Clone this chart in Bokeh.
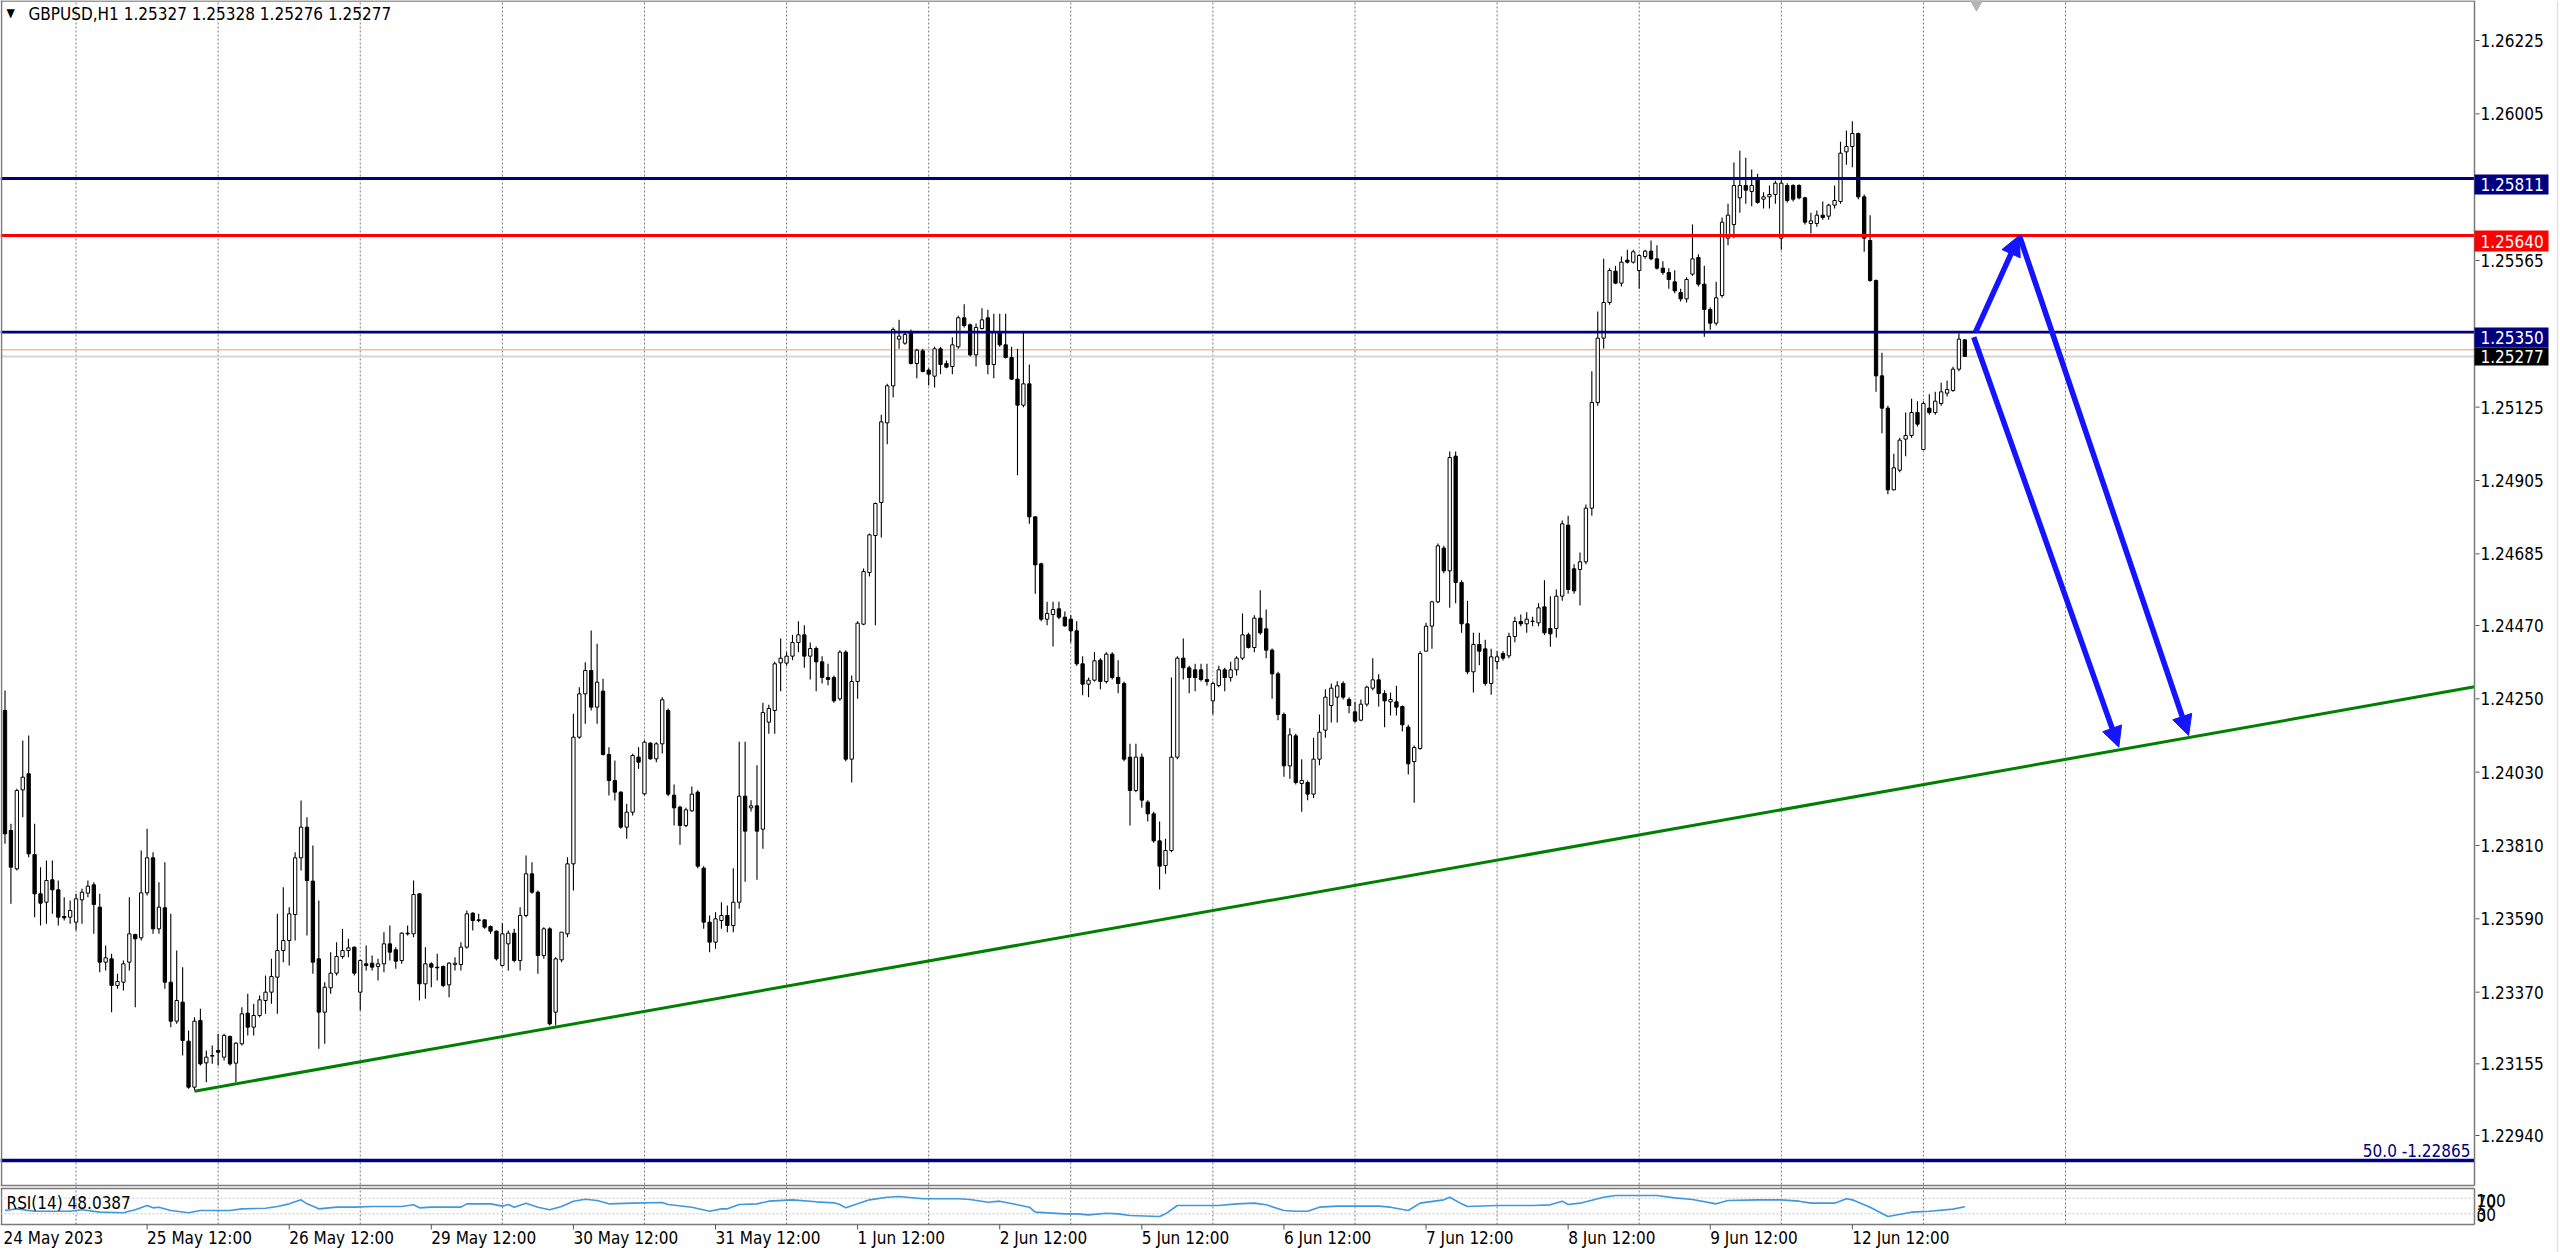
import numpy as np
from bokeh.plotting import figure
from bokeh.models import Range1d, Arrow, NormalHead
from bokeh.core.properties import value
from bokeh.embed import file_html
from bokeh.resources import INLINE

FONT = "DejaVu Sans Condensed"

# ---------------- data ----------------
symbol_title = "GBPUSD,H1  1.25327 1.25328 1.25276 1.25277"

opens = [
1.24215,1.23855,1.23740,1.23977,1.24025,1.23783,1.23665,1.23640,1.23707,1.23677,
1.23597,1.23595,1.23580,1.23647,1.23667,1.23692,1.23625,1.23460,1.23470,1.23390,
1.23400,1.23460,1.23543,1.23533,1.23668,1.23773,1.23560,1.23623,1.23400,1.23283,
1.23340,1.23223,1.23085,1.23285,1.23158,1.23178,1.23195,1.23175,1.23237,1.23157,
1.23215,1.23307,1.23265,1.23300,1.23345,1.23370,1.23415,1.23495,1.23525,1.23603,
1.23773,1.23865,1.23703,1.23470,1.23310,1.23383,1.23427,1.23477,1.23495,1.23505,
1.23370,1.23455,1.23457,1.23447,1.23455,1.23515,1.23497,1.23465,1.23547,1.23545,
1.23665,1.23395,1.23455,1.23445,1.23447,1.23392,1.23453,1.23453,1.23505,1.23607,
1.23587,1.23587,1.23567,1.23553,1.23450,1.23515,1.23547,1.23465,1.23600,1.23725,
1.23670,1.23480,1.23560,1.23310,1.23467,1.23545,1.23755,1.24135,1.24265,1.24335,
1.24225,1.24273,1.24083,1.24005,1.23970,1.23865,1.23910,1.24075,1.23965,1.24117,
1.24070,1.24115,1.24215,1.23961,1.23925,1.23870,1.23914,1.23970,1.23742,1.23580,
1.23520,1.23585,1.23600,1.23570,1.23640,1.23958,1.23923,1.23929,1.23859,1.24180,
1.24215,1.24358,1.24357,1.24378,1.24419,1.24442,1.24378,1.24401,1.24361,1.24314,
1.24314,1.24250,1.24390,1.24069,1.24302,1.24474,1.24629,1.24740,1.24839,1.25078,
1.25189,1.25329,1.25317,1.25349,1.25256,1.25294,1.25236,1.25218,1.25300,1.25256,
1.25247,1.25306,1.25393,1.25372,1.25282,1.25361,1.25393,1.25253,1.25349,1.25312,
1.25274,1.25209,1.25131,1.25195,1.24796,1.24655,1.24489,1.24503,1.24520,1.24495,
1.24489,1.24454,1.24355,1.24294,1.24306,1.24366,1.24302,1.24384,1.24314,1.24296,
1.24075,1.23975,1.24075,1.23940,1.23905,1.23824,1.23750,1.23795,1.24075,1.24372,
1.24343,1.24337,1.24337,1.24308,1.24244,1.24290,1.24337,1.24314,1.24337,1.24372,
1.24442,1.24404,1.24492,1.24460,1.24396,1.24325,1.24203,1.24049,1.24139,1.23996,
1.23999,1.23964,1.24069,1.24156,1.24230,1.24255,1.24296,1.24248,1.24211,1.24186,
1.24234,1.24282,1.24307,1.24266,1.24241,1.24241,1.24227,1.24165,1.24062,1.24101,
1.24393,1.24468,1.24541,1.24702,1.24634,1.24978,1.24599,1.24475,1.24331,1.24413,
1.24400,1.24296,1.24362,1.24386,1.24379,1.24437,1.24482,1.24475,1.24482,1.24478,
1.24526,1.24461,1.24461,1.24558,1.24771,1.24640,1.24638,1.24661,1.24822,1.25139,
1.25332,1.25439,1.25533,1.25497,1.25566,1.25560,1.25535,1.25577,1.25593,1.25570,
1.25542,1.25529,1.25501,1.25469,1.25450,1.25524,1.25574,1.25494,1.25418,1.25377,
1.25460,1.25632,1.25673,1.25753,1.25790,1.25772,1.25808,1.25749,1.25756,1.25763,
1.25632,1.25790,1.25790,1.25790,1.25753,1.25676,1.25676,1.25701,1.25698,1.25731,
1.25742,1.25891,1.25907,1.25946,1.25756,1.25625,1.25505,1.25219,1.25122,1.24877,
1.24936,1.25029,1.25040,1.25109,1.24998,1.25122,1.25109,1.25136,1.25167,1.25175,
1.25239,1.25327]

highs = [
1.24275,1.23875,1.23980,1.24125,1.24140,1.23875,1.23745,1.23765,1.23765,1.23705,
1.23655,1.23645,1.23665,1.23680,1.23705,1.23700,1.23665,1.23510,1.23485,1.23425,
1.23465,1.23655,1.23545,1.23795,1.23860,1.23790,1.23700,1.23760,1.23605,1.23495,
1.23445,1.23255,1.23295,1.23320,1.23195,1.23210,1.23245,1.23245,1.23240,1.23220,
1.23325,1.23365,1.23335,1.23360,1.23420,1.23470,1.23605,1.23685,1.23625,1.23790,
1.23945,1.23895,1.23810,1.23645,1.23400,1.23490,1.23520,1.23560,1.23530,1.23507,
1.23467,1.23510,1.23480,1.23470,1.23550,1.23570,1.23505,1.23550,1.23570,1.23705,
1.23667,1.23505,1.23460,1.23485,1.23450,1.23460,1.23475,1.23520,1.23615,1.23610,
1.23605,1.23587,1.23570,1.23555,1.23577,1.23555,1.23560,1.23625,1.23780,1.23760,
1.23675,1.23565,1.23565,1.23475,1.23550,1.23775,1.24205,1.24285,1.24360,1.24455,
1.24415,1.24310,1.24105,1.24065,1.23973,1.23935,1.24085,1.24105,1.24125,1.24120,
1.24120,1.24255,1.24221,1.23993,1.23929,1.23923,1.23987,1.23976,1.23748,1.23600,
1.23610,1.23640,1.23630,1.23742,1.24121,1.24121,1.23946,1.24051,1.24238,1.24232,
1.24361,1.24431,1.24390,1.24442,1.24483,1.24471,1.24419,1.24407,1.24378,1.24355,
1.24320,1.24396,1.24396,1.24320,1.24483,1.24641,1.24746,1.24839,1.25102,1.25195,
1.25364,1.25387,1.25352,1.25358,1.25300,1.25300,1.25242,1.25306,1.25306,1.25265,
1.25335,1.25399,1.25434,1.25376,1.25376,1.25422,1.25417,1.25405,1.25405,1.25405,
1.25306,1.25300,1.25352,1.25253,1.24798,1.24658,1.24541,1.24541,1.24541,1.24512,
1.24501,1.24483,1.24378,1.24314,1.24390,1.24372,1.24390,1.24390,1.24366,1.24302,
1.24115,1.24115,1.24086,1.23946,1.23911,1.23882,1.23830,1.24314,1.24378,1.24431,
1.24349,1.24355,1.24355,1.24355,1.24302,1.24349,1.24343,1.24361,1.24378,1.24506,
1.24448,1.24501,1.24576,1.24518,1.24401,1.24331,1.24209,1.24162,1.24145,1.24069,
1.24005,1.24133,1.24203,1.24279,1.24296,1.24303,1.24303,1.24255,1.24241,1.24248,
1.24289,1.24372,1.24324,1.24276,1.24269,1.24289,1.24230,1.24172,1.24110,1.24393,
1.24478,1.24544,1.24716,1.24709,1.24992,1.24992,1.24606,1.24544,1.24448,1.24448,
1.24427,1.24400,1.24393,1.24393,1.24448,1.24496,1.24503,1.24510,1.24496,1.24537,
1.24606,1.24558,1.24578,1.24785,1.24799,1.24654,1.24689,1.24833,1.25233,1.25412,
1.25570,1.25542,1.25549,1.25577,1.25597,1.25597,1.25584,1.25597,1.25625,1.25611,
1.25563,1.25542,1.25536,1.25480,1.25515,1.25673,1.25584,1.25549,1.25425,1.25501,
1.25694,1.25735,1.25859,1.25894,1.25873,1.25838,1.25825,1.25770,1.25790,1.25804,
1.25811,1.25797,1.25794,1.25794,1.25756,1.25708,1.25715,1.25742,1.25735,1.25790,
1.25921,1.25955,1.25983,1.25949,1.25763,1.25701,1.25508,1.25288,1.25129,1.24985,
1.25033,1.25109,1.25150,1.25143,1.25143,1.25164,1.25171,1.25198,1.25205,1.25246,
1.25346,1.25328]

lows = [
1.23815,1.23635,1.23735,1.23895,1.23775,1.23595,1.23570,1.23575,1.23605,1.23570,
1.23585,1.23575,1.23555,1.23575,1.23655,1.23545,1.23430,1.23435,1.23310,1.23380,
1.23375,1.23435,1.23325,1.23525,1.23660,1.23545,1.23545,1.23380,1.23265,1.23275,
1.23180,1.23080,1.23075,1.23150,1.23100,1.23155,1.23150,1.23165,1.23150,1.23100,
1.23210,1.23240,1.23240,1.23295,1.23305,1.23335,1.23305,1.23460,1.23450,1.23525,
1.23735,1.23540,1.23425,1.23200,1.23215,1.23365,1.23420,1.23470,1.23475,1.23420,
1.23315,1.23435,1.23435,1.23405,1.23430,1.23465,1.23440,1.23455,1.23540,1.23535,
1.23345,1.23350,1.23385,1.23405,1.23385,1.23355,1.23435,1.23435,1.23500,1.23555,
1.23580,1.23560,1.23545,1.23465,1.23447,1.23435,1.23460,1.23435,1.23595,1.23665,
1.23425,1.23470,1.23270,1.23270,1.23460,1.23535,1.23675,1.24130,1.24175,1.24215,
1.24175,1.24080,1.23960,1.23945,1.23860,1.23830,1.23900,1.24040,1.23960,1.24067,
1.24060,1.24086,1.23958,1.23870,1.23812,1.23865,1.23911,1.23742,1.23560,1.23490,
1.23500,1.23560,1.23550,1.23550,1.23620,1.23701,1.23912,1.23707,1.23800,1.24145,
1.24145,1.24273,1.24349,1.24366,1.24390,1.24343,1.24308,1.24273,1.24296,1.24291,
1.24238,1.24244,1.24063,1.23999,1.24250,1.24471,1.24617,1.24471,1.24734,1.25014,
1.25154,1.25300,1.25312,1.25253,1.25212,1.25230,1.25190,1.25184,1.25224,1.25242,
1.25224,1.25300,1.25364,1.25277,1.25247,1.25358,1.25224,1.25212,1.25306,1.25271,
1.25207,1.24921,1.25125,1.24775,1.24565,1.24483,1.24471,1.24407,1.24489,1.24466,
1.24419,1.24349,1.24261,1.24255,1.24302,1.24279,1.24296,1.24308,1.24267,1.24063,
1.23870,1.23970,1.23923,1.23882,1.23818,1.23678,1.23725,1.23790,1.24069,1.24308,
1.24267,1.24273,1.24302,1.24290,1.24203,1.24285,1.24273,1.24302,1.24320,1.24366,
1.24401,1.24390,1.24442,1.24372,1.24250,1.24186,1.24016,1.24010,1.23993,1.23911,
1.23946,1.23952,1.24051,1.24133,1.24179,1.24179,1.24248,1.24207,1.24179,1.24183,
1.24227,1.24276,1.24227,1.24165,1.24200,1.24200,1.24152,1.24023,1.23938,1.24097,
1.24393,1.24400,1.24537,1.24627,1.24523,1.24537,1.24448,1.24324,1.24269,1.24351,
1.24289,1.24262,1.24338,1.24365,1.24372,1.24420,1.24468,1.24448,1.24468,1.24468,
1.24441,1.24406,1.24434,1.24544,1.24565,1.24565,1.24530,1.24654,1.24799,1.25129,
1.25301,1.25432,1.25494,1.25487,1.25556,1.25556,1.25480,1.25570,1.25566,1.25538,
1.25522,1.25480,1.25467,1.25442,1.25439,1.25519,1.25487,1.25336,1.25357,1.25370,
1.25453,1.25611,1.25632,1.25708,1.25735,1.25728,1.25735,1.25721,1.25721,1.25735,
1.25597,1.25739,1.25742,1.25749,1.25673,1.25646,1.25666,1.25687,1.25687,1.25721,
1.25735,1.25852,1.25845,1.25749,1.25591,1.25501,1.25171,1.25047,1.24864,1.24875,
1.24930,1.24978,1.25033,1.25067,1.24996,1.25102,1.25102,1.25129,1.25157,1.25171,
1.25233,1.25276]

closes = [
1.23845,1.23745,1.23975,1.24015,1.23785,1.23665,1.23637,1.23705,1.23677,1.23595,
1.23593,1.23615,1.23650,1.23670,1.23688,1.23633,1.23460,1.23473,1.23390,1.23402,
1.23455,1.23545,1.23530,1.23668,1.23773,1.23560,1.23625,1.23400,1.23283,1.23345,
1.23225,1.23085,1.23283,1.23155,1.23175,1.23180,1.23190,1.23240,1.23155,1.23217,
1.23305,1.23265,1.23300,1.23347,1.23370,1.23417,1.23495,1.23525,1.23605,1.23773,
1.23865,1.23705,1.23460,1.23310,1.23385,1.23427,1.23477,1.23495,1.23503,1.23427,
1.23465,1.23450,1.23445,1.23455,1.23515,1.23490,1.23463,1.23547,1.23545,1.23663,
1.23395,1.23455,1.23445,1.23443,1.23390,1.23457,1.23457,1.23505,1.23605,1.23585,
1.23585,1.23565,1.23553,1.23470,1.23545,1.23547,1.23465,1.23600,1.23725,1.23670,
1.23480,1.23560,1.23275,1.23470,1.23550,1.23755,1.24135,1.24265,1.24335,1.24225,
1.24300,1.24083,1.24005,1.23970,1.23865,1.23910,1.24080,1.24060,1.24120,1.24070,
1.24115,1.24247,1.23964,1.23923,1.23870,1.23917,1.23964,1.23748,1.23580,1.23520,
1.23590,1.23600,1.23570,1.23640,1.23958,1.23853,1.23929,1.23853,1.24209,1.24221,
1.24355,1.24372,1.24378,1.24419,1.24442,1.24378,1.24401,1.24361,1.24314,1.24308,
1.24244,1.24390,1.24069,1.24302,1.24477,1.24632,1.24742,1.24836,1.25081,1.25189,
1.25358,1.25338,1.25343,1.25256,1.25296,1.25232,1.25224,1.25300,1.25253,1.25245,
1.25312,1.25393,1.25370,1.25282,1.25364,1.25387,1.25253,1.25352,1.25312,1.25274,
1.25209,1.25131,1.25195,1.24796,1.24652,1.24489,1.24506,1.24518,1.24495,1.24469,
1.24454,1.24355,1.24294,1.24306,1.24364,1.24302,1.24384,1.24314,1.24296,1.24069,
1.23975,1.24075,1.23946,1.23905,1.23824,1.23748,1.23795,1.24075,1.24372,1.24343,
1.24314,1.24314,1.24308,1.24302,1.24296,1.24337,1.24314,1.24337,1.24372,1.24442,
1.24404,1.24492,1.24448,1.24396,1.24325,1.24203,1.24049,1.24142,1.23999,1.24005,
1.23964,1.24069,1.24150,1.24255,1.24282,1.24289,1.24255,1.24230,1.24183,1.24234,
1.24285,1.24307,1.24266,1.24244,1.24248,1.24225,1.24172,1.24055,1.24104,1.24386,
1.24468,1.24541,1.24709,1.24634,1.24974,1.24599,1.24475,1.24331,1.24413,1.24393,
1.24296,1.24376,1.24376,1.24372,1.24437,1.24482,1.24475,1.24489,1.24483,1.24523,
1.24448,1.24445,1.24558,1.24775,1.24578,1.24574,1.24661,1.24822,1.25139,1.25332,
1.25439,1.25535,1.25497,1.25560,1.25560,1.25591,1.25580,1.25593,1.25570,1.25542,
1.25529,1.25508,1.25474,1.25450,1.25508,1.25570,1.25494,1.25418,1.25377,1.25453,
1.25680,1.25701,1.25790,1.25790,1.25776,1.25790,1.25739,1.25756,1.25763,1.25797,
1.25797,1.25745,1.25749,1.25753,1.25680,1.25684,1.25701,1.25694,1.25731,1.25745,
1.25887,1.25907,1.25946,1.25756,1.25632,1.25505,1.25219,1.25122,1.24877,1.24943,
1.25026,1.25040,1.25109,1.25074,1.25136,1.25109,1.25143,1.25171,1.25178,1.25239,
1.25329,1.25277]

rsi_title = "RSI(14) 48.0387"
rsi_bars = [0, 2, 5, 11, 13, 16, 20, 22, 24, 25, 26, 28, 31, 33, 38, 40, 44, 46, 48, 50,
            51, 53, 56, 59, 62, 67, 69, 70, 72, 77, 78, 82, 84, 85, 86, 88, 90, 92, 94, 96,
            98, 100, 102, 106, 111, 112, 116, 119, 121, 122, 124, 127, 129, 133, 137, 140, 141, 142, 144, 146,
            149, 151, 155, 161, 163, 166, 168, 171, 173, 174, 179, 181, 183, 186, 188, 190, 195, 196, 198, 205,
            208, 211, 213, 216, 218, 220, 222, 225, 232, 234, 237, 239, 243, 244, 246, 247, 252, 258, 261, 263,
            264, 266, 270, 272, 279, 282, 285, 289, 291, 296, 300, 303, 305, 309, 311, 312, 315, 318, 322, 325,
            329, 331]
rsi_vals = [38.5, 42.7, 36.7, 36.7, 40.2, 34.2, 32.5, 40.2, 51.3, 45.3, 47.0, 38.5, 32.5, 38.5, 38.5, 42.7, 44.4, 48.7, 55.5, 65.8,
            55.5, 42.7, 47.0, 47.0, 48.7, 48.7, 53.0, 45.3, 47.0, 47.0, 55.5, 55.5, 49.6, 53.8, 47.0, 57.3, 47.0, 40.2, 48.7, 62.4,
            67.5, 64.1, 55.5, 57.3, 59.0, 53.8, 47.0, 36.7, 42.7, 42.7, 53.8, 55.5, 62.4, 65.8, 60.7, 58.1, 53.8, 45.3, 55.5, 65.8,
            72.6, 74.4, 68.4, 68.4, 66.7, 59.8, 62.4, 53.0, 47.0, 34.2, 29.9, 29.9, 27.3, 31.6, 29.9, 25.6, 23.0, 29.9, 51.3, 51.3,
            55.5, 57.3, 53.0, 38.5, 36.7, 36.7, 47.0, 49.6, 49.6, 47.0, 38.5, 57.3, 65.8, 72.6, 55.5, 48.7, 51.3, 51.3, 53.0, 62.4,
            53.8, 57.3, 72.6, 76.9, 76.9, 70.9, 66.7, 55.5, 64.1, 65.8, 65.8, 62.4, 57.3, 57.3, 68.4, 65.8, 47.0, 23.0, 34.2, 36.5,
            42.0, 48.04]
rsi_levels = [70, 30]
rsi_axis_labels = ["100", "70", "30", "0"]

time_label_bars = [0, 24, 48, 72, 96, 120, 144, 168, 192, 216, 240, 264, 288, 312]
time_labels = ["24 May 2023", "25 May 12:00", "26 May 12:00", "29 May 12:00", "30 May 12:00",
               "31 May 12:00", "1 Jun 12:00", "2 Jun 12:00", "5 Jun 12:00", "6 Jun 12:00",
               "7 Jun 12:00", "8 Jun 12:00", "9 Jun 12:00", "12 Jun 12:00"]
grid_bars = [12, 36, 60, 84, 108, 132, 156, 180, 204, 228, 252, 276, 300, 324, 348]

price_ticks = [1.22940, 1.23155, 1.23370, 1.23590, 1.23810, 1.24030, 1.24250, 1.24470,
               1.24685, 1.24905, 1.25125, 1.25565, 1.26005, 1.26225]

level_prices = [1.25811, 1.25640, 1.25350]
level_colors = ["#000080", "#ff0000", "#000080"]
level_labels = ["1.25811", "1.25640", "1.25350"]
bid_price = 1.25277
bid_label = "1.25277"
ask_price = 1.25297
fib_price = 1.22865
fib_label = "50.0 -1.22865"

trend_bars = [32, 92]
trend_prices = [1.23073, 1.23262]

arrow_starts = [(332.8, 1.25350), (340.2, 1.25640), (332.5, 1.25335)]
arrow_ends = [(340.2, 1.25640), (368.8, 1.24140), (357.0, 1.24105)]

# ---------------- geometry (screen pixels of the MT4 window) ----------------
W, H = 2560, 1252
BORDER_X = 2474
PX = 0.00003          # price per screen pixel

def bx(px):      # screen x -> bar index
    return (px - 4.5) / 5.921

def py(px):      # screen y -> price
    return 1.26225 - (px - 40) * PX

def ry(px):      # screen y -> RSI value
    return (1225 - px) / 0.39

p = figure(width=W, height=H,
           x_range=Range1d(bx(0), bx(W)), y_range=Range1d(py(H), py(0)),
           output_backend="svg", toolbar_location=None,
           x_axis_location=None, y_axis_location=None,
           min_border_left=0, min_border_right=0, min_border_top=0, min_border_bottom=0)
p.extra_y_ranges = {"rsi": Range1d(ry(H), ry(0))}
p.outline_line_color = None
p.grid.visible = False
p.background_fill_color = "white"
p.border_fill_color = "white"

xl, xr = bx(0), bx(BORDER_X)
TXT = dict(text_font=value(FONT), text_font_size="17px", text_baseline="middle")

# vertical dotted grid
ng = len(grid_bars)
p.segment(x0=grid_bars, y0=[py(1224)] * ng, x1=grid_bars, y1=[py(0)] * ng,
          line_color="#777777", line_dash="2 2", line_width=1)

# bid / ask lines
p.segment(x0=[xl], y0=[bid_price], x1=[xr], y1=[bid_price], line_color="#d6d6d6", line_width=2)
p.segment(x0=[xl], y0=[ask_price], x1=[xr], y1=[ask_price], line_color="#e0a070", line_width=1)

# candles
n = min(len(opens), len(highs), len(lows), len(closes))
o = np.array(opens[:n]); h = np.array(highs[:n]); l = np.array(lows[:n]); c = np.array(closes[:n])
idx = np.arange(n)
bull = c >= o
p.segment(x0=idx, y0=l, x1=idx, y1=h, line_color="black", line_width=1.1)
p.vbar(x=idx[bull], top=c[bull], bottom=o[bull], width=0.56,
       fill_color="white", line_color="black", line_width=1)
p.vbar(x=idx[~bull], top=o[~bull], bottom=c[~bull], width=0.56,
       fill_color="black", line_color="black", line_width=1)

# horizontal levels
for pr, col in zip(level_prices, level_colors):
    p.segment(x0=[xl], y0=[pr], x1=[xr], y1=[pr], line_color=col, line_width=2.8)
p.segment(x0=[xl], y0=[fib_price], x1=[xr], y1=[fib_price], line_color="#000080", line_width=3.5)

# trend line (ray to the right border)
slope = (trend_prices[1] - trend_prices[0]) / (trend_bars[1] - trend_bars[0])
p.segment(x0=[trend_bars[0]], y0=[trend_prices[0]], x1=[xr],
          y1=[trend_prices[0] + slope * (xr - trend_bars[0])], line_color="#008000", line_width=3)

# arrows
BLUE = "#1414ff"
for (x0, y0), (x1, y1) in zip(arrow_starts, arrow_ends):
    p.add_layout(Arrow(end=NormalHead(size=20, fill_color=BLUE, line_color=BLUE, line_width=1),
                       x_start=x0, y_start=y0, x_end=x1, y_end=y1,
                       line_color=BLUE, line_width=5.5))

# borders
bcol = "#7a7a7a"
p.segment(x0=[xr, bx(1), xl], y0=[py(0), py(0), py(0.5)], x1=[xr, bx(1), xr],
          y1=[py(1185), py(1185), py(0.5)], line_color=bcol, line_width=1.5)
p.segment(x0=[xl], y0=[py(1185)], x1=[xr], y1=[py(1185)], line_color=bcol, line_width=1.5)
p.segment(x0=[xl, xl, xr, bx(1)], y0=[py(1188), py(1224), py(1188), py(1188)],
          x1=[xr, xr, xr, bx(1)], y1=[py(1188), py(1224), py(1224), py(1224)],
          line_color=bcol, line_width=1.5)
p.segment(x0=[bx(2557)], y0=[py(0)], x1=[bx(2557)], y1=[py(H)], line_color="#e4e4e4", line_width=1.5)

# price scale (right): ticks and labels at their prices
nt = len(price_ticks)
p.segment(x0=[bx(2475)] * nt, y0=price_ticks, x1=[bx(2479)] * nt, y1=price_ticks,
          line_color="#555555", line_width=1)
p.text(x=[bx(2480)] * nt, y=price_ticks, text=[f"{t:.5f}" for t in price_ticks],
       text_align="left", text_color="#000000", **TXT)

# price boxes at right
box_specs = [(level_labels[0], 184, 20, "#000080"), (level_labels[1], 240.5, 21, "#ff0000"),
             (level_labels[2], 337, 20, "#000080"), (bid_label, 356, 18, "#000000")]
for txt, yc, hh, col in box_specs:
    p.quad(left=[bx(2474)], right=[bx(2548)], top=[py(yc - hh / 2)], bottom=[py(yc + hh / 2)],
           fill_color=col, line_color=col, line_width=0)
    p.text(x=[bx(2480)], y=[py(yc)], text=[txt], text_align="left", text_color="white", **TXT)

# RSI panel
nl = len(rsi_levels)
p.segment(x0=[xl] * nl, y0=rsi_levels, x1=[xr] * nl, y1=rsi_levels, y_range_name="rsi",
          line_color="#c4c4c4", line_dash="2 2", line_width=1)
p.line(rsi_bars, rsi_vals, y_range_name="rsi", line_color="#3f97e0", line_width=1.6)
p.text(x=[bx(6)], y=[py(1202)], text=[rsi_title], text_align="left", text_color="#000000", **TXT)
rsi_lab_y = [py(1199.5), py(1200.5), py(1213.5), py(1214.5)]
p.text(x=[bx(2476)] * 4, y=rsi_lab_y, text=rsi_axis_labels, text_align="left",
       text_color="#000000", **TXT)

# time axis labels and ticks
tx = [bx(3)] + time_label_bars[1:]
p.text(x=tx, y=[py(1237)] * len(tx), text=time_labels, text_align="left", text_color="#000000", **TXT)
tb = time_label_bars[1:]
p.segment(x0=tb, y0=[py(1224)] * len(tb), x1=tb, y1=[py(1229)] * len(tb), line_color="#555555", line_width=1)

# title
p.text(x=[bx(28)], y=[py(13)], text=[symbol_title], text_align="left", text_color="#000000", **TXT)
p.text(x=[bx(6)], y=[py(12)], text=["\u25BC"], text_font=value(FONT), text_font_size="12px",
       text_baseline="middle", text_align="left", text_color="#000000")
p.scatter(x=[bx(1976)], y=[py(2)], marker="inverted_triangle", size=15, color="#b4b4b4")

# fib level label
p.text(x=[bx(2470)], y=[py(1150)], text=[fib_label], text_align="right", text_color="#000080", **TXT)

open("out.html", "w").write(file_html(p, INLINE))
